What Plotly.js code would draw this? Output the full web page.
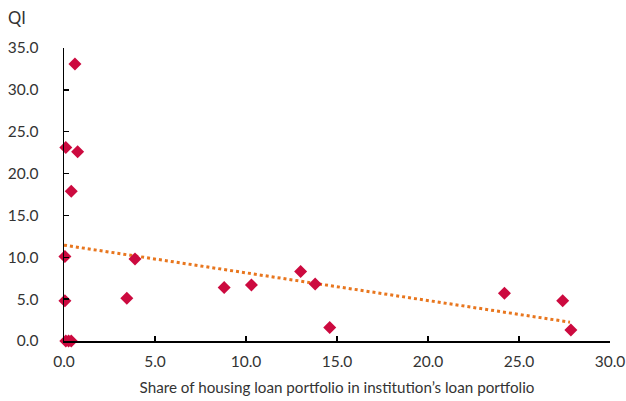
<!DOCTYPE html>
<html>
<head>
<meta charset="utf-8">
<script src="https://cdn.plot.ly/plotly-3.0.1.min.js"></script>
<style>html,body{margin:0;padding:0;background:#fff;}#chart{width:626px;height:401px;}</style>
</head>
<body>
<div id="chart"></div>
<script>
// Share of housing loan portfolio (x) and QI (y)
const shareX = [0.1, 0.6, 0.75, 0.4, 0.05, 0.05, 0.1, 0.25, 0.4, 3.45, 3.9, 8.8, 10.3, 13.0, 13.8, 14.6, 24.2, 27.4, 27.85];
const qiY    = [23.1, 33.1, 22.6, 17.9, 10.1, 4.8, 0.0, 0.0, 0.0, 5.1, 9.8, 6.4, 6.7, 8.3, 6.8, 1.6, 5.7, 4.8, 1.3];
// Linear trend endpoints
const trendX = [0.0, 27.8];
const trendY = [11.45, 2.25];
const xTicks = [0, 5, 10, 15, 20, 25, 30];
const xTickText = ["0.0", "5.0", "10.0", "15.0", "20.0", "25.0", "30.0"];
const yTicks = [0, 5, 10, 15, 20, 25, 30, 35];
const yTickText = ["0.0", "5.0", "10.0", "15.0", "20.0", "25.0", "30.0", "35.0"];

const tickFont = {family: "Lato, 'Open Sans', sans-serif", size: 15.5, color: "#333333"};
const titleFont = {family: "Lato, 'Open Sans', sans-serif", size: 15.2, color: "#333333"};

const traces = [
  {
    x: trendX, y: trendY, mode: "lines", type: "scatter",
    line: {color: "#E8761E", width: 3, dash: "dot"},
    hoverinfo: "skip", cliponaxis: false
  },
  {
    x: shareX, y: qiY, mode: "markers", type: "scatter",
    marker: {symbol: "diamond", color: "#CC0A3F", size: 10},
    cliponaxis: false
  }
];

const layout = {
  width: 626, height: 401,
  margin: {l: 64, r: 16, t: 48, b: 60},
  paper_bgcolor: "#ffffff", plot_bgcolor: "#ffffff",
  showlegend: false,
  font: tickFont,
  xaxis: {
    range: [0, 30], tickvals: xTicks, ticktext: xTickText,
    showgrid: false, zeroline: false,
    showline: true, linecolor: "#000000", linewidth: 1.5,
    ticks: "inside", ticklen: 5, tickcolor: "#000000", tickwidth: 1.5,
    tickfont: tickFont, ticklabelstandoff: 6, ticklabeloverflow: "allow",
    automargin: false,
    title: {text: "Share of housing loan portfolio in institution\u2019s loan portfolio", font: titleFont, standoff: 13}
  },
  yaxis: {
    range: [0, 35], tickvals: yTicks, ticktext: yTickText,
    showgrid: false, zeroline: false,
    showline: true, linecolor: "#000000", linewidth: 1.5,
    ticks: "inside", ticklen: 5, tickcolor: "#000000", tickwidth: 1.5,
    tickfont: tickFont, ticklabelstandoff: 21, ticklabeloverflow: "allow",
    automargin: false
  },
  annotations: [
    {text: "QI", xref: "paper", yref: "paper", x: 0, y: 1, xshift: -58, yshift: 30,
     xanchor: "left", yanchor: "middle", showarrow: false,
     font: {family: "Lato, 'Open Sans', sans-serif", size: 16.5, color: "#333333"}}
  ]
};

Plotly.newPlot("chart", traces, layout, {displayModeBar: false, staticPlot: true});
</script>
</body>
</html>
